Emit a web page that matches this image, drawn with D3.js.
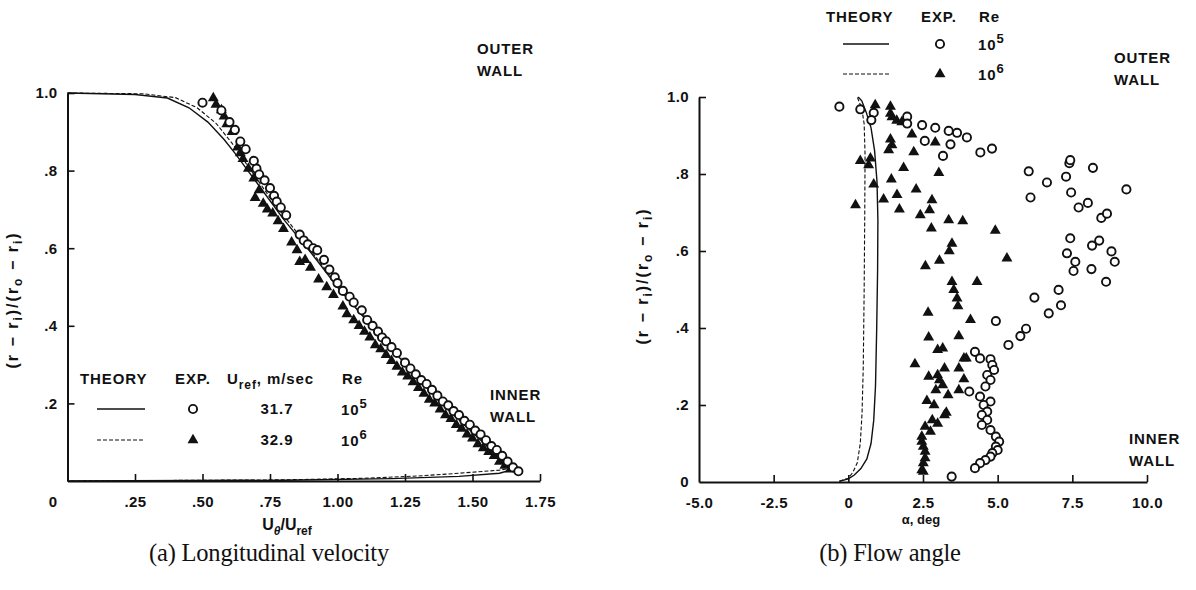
<!DOCTYPE html>
<html lang="en">
<head>
<meta charset="utf-8">
<title>Longitudinal velocity and flow angle</title>
<style>
  body { margin: 0; background: #fff; }
  svg text { font-family: "Liberation Sans", Arial, sans-serif; font-weight: bold; fill: #111; }
  .axis path, .axis line { stroke: #111; }
  .axis path { stroke-width: 2; }
  .axis line { stroke-width: 1.6; }
  .axis text { font-size: 15px; letter-spacing: 0.4px; }
  .lbl { letter-spacing: 0.9px; }
  .ytitle { letter-spacing: 2px; }
  .caption { font-family: "Liberation Serif", "DejaVu Serif", serif !important; font-weight: normal !important; font-size: 24.5px; letter-spacing: -0.2px; }
</style>
</head>
<body>
<svg id="chart" width="1196" height="590"></svg>
<script src="https://cdn.jsdelivr.net/npm/d3@7"></script>
<script>
// ---- (a) longitudinal velocity ----
const uTicks = [0, 0.25, 0.5, 0.75, 1.0, 1.25, 1.5, 1.75];
const uTickLabels = ["0", ".25", ".50", ".75", "1.00", "1.25", "1.50", "1.75"];
const rTicksA = [0.2, 0.4, 0.6, 0.8, 1.0];
const rTickLabelsA = [".2", ".4", ".6", ".8", "1.0"];

// theory, Re 1e5 (solid) and Re 1e6 (dashed): [U/Uref, (r-ri)/(ro-ri)]
const theoryA5 = [[0,1],[0.25,0.996],[0.37,0.987],[0.45,0.962],[0.52,0.925],[0.58,0.88],[0.62,0.845],[0.7,0.77],[0.8,0.675],[0.9,0.59],[1.0,0.5],[1.1,0.42],[1.2,0.34],[1.3,0.265],[1.4,0.19],[1.5,0.125],[1.6,0.06],[1.65,0.03],[1.6,0.02],[1.45,0.012],[1.2,0.006],[0.8,0.002],[0,0]];
const theoryA6 = [[0,1],[0.28,0.998],[0.4,0.988],[0.48,0.962],[0.55,0.922],[0.61,0.87],[0.66,0.82],[0.75,0.73],[0.9,0.595],[1.0,0.505],[1.2,0.345],[1.4,0.195],[1.6,0.065],[1.66,0.035],[1.6,0.028],[1.45,0.02],[1.3,0.013],[1.1,0.007],[0.8,0.003],[0,0]];

// experiment, Re 1e5 (circles)
const expA5 = [[0.50,0.975],[0.57,0.955],[0.60,0.925],[0.62,0.905],[0.64,0.875],[0.66,0.855],[0.69,0.825],[0.70,0.805],[0.71,0.79],[0.73,0.775],[0.75,0.755],[0.765,0.735],[0.775,0.72],[0.79,0.705],[0.81,0.685],[0.86,0.635],[0.875,0.62],[0.89,0.61],[0.91,0.60],[0.925,0.595],[0.95,0.57],[0.97,0.545],[0.99,0.525],[1.0,0.51],[1.02,0.49],[1.045,0.475],[1.06,0.46],[1.09,0.44],[1.11,0.415],[1.13,0.40],[1.15,0.385],[1.165,0.37],[1.18,0.36],[1.2,0.345],[1.22,0.33],[1.25,0.305],[1.27,0.29],[1.29,0.275],[1.31,0.26],[1.33,0.25],[1.35,0.235],[1.37,0.22],[1.39,0.205],[1.41,0.195],[1.43,0.18],[1.45,0.17],[1.47,0.155],[1.49,0.145],[1.51,0.13],[1.53,0.12],[1.55,0.105],[1.57,0.09],[1.59,0.08],[1.61,0.065],[1.63,0.05],[1.65,0.035],[1.67,0.025]];
// experiment, Re 1e6 (triangles)
const expA6 = [[0.54,0.987],[0.55,0.97],[0.57,0.956],[0.58,0.94],[0.59,0.92],[0.61,0.90],[0.63,0.86],[0.64,0.845],[0.65,0.83],[0.67,0.805],[0.69,0.78],[0.695,0.73],[0.71,0.75],[0.725,0.715],[0.74,0.70],[0.76,0.69],[0.78,0.67],[0.80,0.65],[0.83,0.615],[0.85,0.595],[0.86,0.565],[0.88,0.57],[0.9,0.55],[0.93,0.52],[0.96,0.50],[0.985,0.48],[1.02,0.45],[1.035,0.43],[1.06,0.415],[1.08,0.4],[1.1,0.385],[1.12,0.37],[1.14,0.35],[1.16,0.34],[1.18,0.325],[1.2,0.31],[1.22,0.295],[1.24,0.28],[1.26,0.27],[1.28,0.255],[1.3,0.24],[1.32,0.225],[1.34,0.21],[1.36,0.2],[1.38,0.185],[1.4,0.17],[1.42,0.16],[1.44,0.145],[1.46,0.135],[1.48,0.12],[1.5,0.11],[1.52,0.095],[1.54,0.085],[1.56,0.075],[1.58,0.065],[1.6,0.05],[1.62,0.04],[1.64,0.03]];

// ---- (b) flow angle ----
const aTicks = [-5, -2.5, 0, 2.5, 5, 7.5, 10];
const aTickLabels = ["-5.0", "-2.5", "0", "2.5", "5.0", "7.5", "10.0"];
const rTicksB = [0, 0.2, 0.4, 0.6, 0.8, 1.0];
const rTickLabelsB = ["0", ".2", ".4", ".6", ".8", "1.0"];

// theory: [alpha deg, (r-ri)/(ro-ri)]
const theoryB5 = [[-0.3,0.002],[0,0.008],[0.2,0.018],[0.42,0.035],[0.62,0.06],[0.76,0.1],[0.85,0.16],[0.91,0.25],[0.95,0.4],[0.98,0.55],[0.99,0.68],[0.96,0.78],[0.88,0.86],[0.76,0.92],[0.6,0.96],[0.45,0.99],[0.33,1.0]];
const theoryB6 = [[-0.3,0.002],[0,0.01],[0.15,0.025],[0.3,0.05],[0.4,0.1],[0.46,0.18],[0.5,0.3],[0.53,0.5],[0.55,0.7],[0.56,0.85],[0.53,0.93],[0.45,0.97],[0.3,1.0]];

const expB5 = [[-0.3,0.975],[0.40,0.968],[0.85,0.959],[0.77,0.940],[1.97,0.949],[1.97,0.931],[2.47,0.927],[2.91,0.920],[3.36,0.912],[3.64,0.907],[3.97,0.895],[2.56,0.886],[3.42,0.877],[3.17,0.847],[4.42,0.856],[4.81,0.866],[6.04,0.807],[6.10,0.739],[6.65,0.778],[7.29,0.793],[7.40,0.828],[7.43,0.836],[7.46,0.752],[7.71,0.713],[8.02,0.725],[8.47,0.686],[8.66,0.697],[8.19,0.816],[9.31,0.760],[7.43,0.633],[7.32,0.594],[7.60,0.572],[7.54,0.548],[8.16,0.614],[8.40,0.627],[8.81,0.599],[8.92,0.572],[8.14,0.553],[8.63,0.520],[6.23,0.479],[7.04,0.499],[6.71,0.438],[7.12,0.459],[4.94,0.418],[5.95,0.398],[5.76,0.379],[5.36,0.356],[4.24,0.338],[4.41,0.321],[4.76,0.319],[4.82,0.304],[4.88,0.291],[4.65,0.278],[4.76,0.265],[4.59,0.248],[4.05,0.235],[4.41,0.222],[4.76,0.209],[4.53,0.2],[4.65,0.183],[4.47,0.174],[4.65,0.161],[4.47,0.148],[4.76,0.135],[4.94,0.118],[5.05,0.105],[4.94,0.092],[5.00,0.083],[4.82,0.075],[4.76,0.066],[4.59,0.057],[4.41,0.049],[4.24,0.036],[3.46,0.014]];
const expB6 = [[0.90,0.979],[1.41,0.975],[1.41,0.957],[1.46,0.948],[1.62,0.939],[1.79,0.935],[2.13,0.903],[2.91,0.882],[1.41,0.890],[1.46,0.875],[1.35,0.862],[2.19,0.857],[1.85,0.816],[3.03,0.803],[0.40,0.834],[0.68,0.823],[0.74,0.841],[0.85,0.773],[1.44,0.786],[1.18,0.734],[1.63,0.746],[2.27,0.760],[2.80,0.732],[0.24,0.719],[1.71,0.708],[2.41,0.693],[2.72,0.706],[3.36,0.680],[3.83,0.678],[2.78,0.659],[4.92,0.653],[3.47,0.619],[3.38,0.600],[3.05,0.575],[2.58,0.561],[5.31,0.581],[3.47,0.520],[3.53,0.499],[3.64,0.477],[3.67,0.457],[4.31,0.520],[2.67,0.440],[4.09,0.421],[3.70,0.379],[2.69,0.376],[2.23,0.306],[3.87,0.321],[3.95,0.321],[3.22,0.295],[3.70,0.295],[2.99,0.343],[3.16,0.347],[2.69,0.274],[2.99,0.278],[3.05,0.265],[3.87,0.267],[3.16,0.252],[2.93,0.239],[3.70,0.239],[3.34,0.226],[2.63,0.211],[2.87,0.2],[3.28,0.18],[3.22,0.174],[2.81,0.161],[2.99,0.152],[2.57,0.144],[2.75,0.131],[2.46,0.118],[2.46,0.105],[2.51,0.092],[2.57,0.079],[2.57,0.062],[2.51,0.049],[2.46,0.031],[2.51,0.027]];

const svg = d3.select("#chart");
svg.append("rect").attr("width", 1196).attr("height", 590).attr("fill", "#fff");

const triangle = d3.symbol().type(d3.symbolTriangle).size(52);

function drawPanel(o) {
  const g = svg.append("g");
  const x = o.x, y = o.y;
  const line = d3.line().x(d => x(d[0])).y(d => y(d[1]));

  const xAxis = d3.axisBottom(x).tickValues(o.xTicks).tickFormat((d, i) => o.xLabels[i])
    .tickSizeInner(-7).tickSizeOuter(0).tickPadding(15);
  const gx = g.append("g").attr("class", "axis").attr("transform", `translate(0,${y(0)})`).call(xAxis);
  gx.selectAll(".tick").filter(d => d === o.xTicks[0]).select("line").remove();
  gx.selectAll(".tick text").attr("dx", d => d === o.xTicks[0] ? o.firstDx : 0);

  const yAxis = d3.axisLeft(y).tickValues(o.yTicks).tickFormat((d, i) => o.yLabels[i])
    .tickSizeInner(-7).tickSizeOuter(0).tickPadding(10);
  const gy = g.append("g").attr("class", "axis").attr("transform", `translate(${x.range()[0]},0)`).call(yAxis);
  gy.selectAll(".tick").filter(d => d === 0).select("line").remove();

  g.append("path").datum(o.theory5).attr("d", line)
    .attr("fill", "none").attr("stroke", "#111").attr("stroke-width", 1.4);
  g.append("path").datum(o.theory6).attr("d", line)
    .attr("fill", "none").attr("stroke", "#111").attr("stroke-width", 1.1).attr("stroke-dasharray", "4,2");

  g.selectAll(".tri").data(o.exp6).join("path")
    .attr("d", triangle).attr("transform", d => `translate(${x(d[0])},${y(d[1])})`).attr("fill", "#111");
  g.selectAll(".circ").data(o.exp5).join("circle")
    .attr("cx", d => x(d[0])).attr("cy", d => y(d[1])).attr("r", 4.1)
    .attr("fill", "#fff").attr("stroke", "#111").attr("stroke-width", 1.9);
  return g;
}

const xA = d3.scaleLinear().domain([0, 1.75]).range([67.5, 540]);
const yA = d3.scaleLinear().domain([0, 1]).range([481, 93]);
const xB = d3.scaleLinear().domain([-5, 10]).range([699, 1147]);
const yB = d3.scaleLinear().domain([0, 1]).range([482, 97]);

drawPanel({ x: xA, y: yA, xTicks: uTicks, xLabels: uTickLabels, yTicks: rTicksA, yLabels: rTickLabelsA,
  theory5: theoryA5, theory6: theoryA6, exp5: expA5, exp6: expA6, firstDx: -15 });
drawPanel({ x: xB, y: yB, xTicks: aTicks, xLabels: aTickLabels, yTicks: rTicksB, yLabels: rTickLabelsB,
  theory5: theoryB5, theory6: theoryB6, exp5: expB5, exp6: expB6, firstDx: 0 });

// y axis titles (r - ri)/(ro - ri)
function yTitle(cx, cy) {
  const t = svg.append("text").attr("transform", `translate(${cx},${cy}) rotate(-90)`)
    .attr("text-anchor", "middle").attr("font-size", 16).attr("class", "ytitle");
  t.append("tspan").text("(r \u2212 r");
  t.append("tspan").text("i").attr("dy", 4).attr("font-size", 12);
  t.append("tspan").text(")/(r").attr("dy", -4);
  t.append("tspan").text("o").attr("dy", 4).attr("font-size", 12);
  t.append("tspan").text(" \u2212 r").attr("dy", -4);
  t.append("tspan").text("i").attr("dy", 4).attr("font-size", 12);
  t.append("tspan").text(")").attr("dy", -4);
}
yTitle(18, 300);
yTitle(648, 276);

// x axis titles
const ux = svg.append("text").attr("x", 287).attr("y", 530).attr("text-anchor", "middle").attr("font-size", 16);
ux.append("tspan").text("U");
ux.append("tspan").text("\u03b8").attr("dy", 5).attr("font-size", 12).attr("font-style", "italic");
ux.append("tspan").text("/U").attr("dy", -5);
ux.append("tspan").text("ref").attr("dy", 5).attr("font-size", 12);
svg.append("text").attr("x", 921).attr("y", 524).attr("text-anchor", "middle").attr("font-size", 13).text("\u03b1, deg");

// wall labels
function twoLine(x, y, a, b) {
  svg.append("text").attr("class", "lbl").attr("x", x).attr("y", y).attr("font-size", 15).text(a);
  svg.append("text").attr("class", "lbl").attr("x", x).attr("y", y + 22).attr("font-size", 15).text(b);
}
twoLine(477, 54, "OUTER", "WALL");
twoLine(490, 400, "INNER", "WALL");
twoLine(1114, 63, "OUTER", "WALL");
twoLine(1129, 444, "INNER", "WALL");

// legend helpers
function supText(x, y, base, sup) {
  const t = svg.append("text").attr("class", "lbl").attr("x", x).attr("y", y).attr("font-size", 15);
  t.append("tspan").text(base);
  t.append("tspan").text(sup).attr("dy", -7).attr("font-size", 13);
}
function legendRows(o) {
  o.rows.forEach((r, i) => {
    const yy = o.y0 + i * o.dy;
    svg.append("line").attr("x1", o.lineX[0]).attr("x2", o.lineX[1]).attr("y1", yy).attr("y2", yy)
      .attr("stroke", "#111").attr("stroke-width", r.dash ? 1.1 : 1.6).attr("stroke-dasharray", r.dash ? "4,2" : null);
    if (r.mark === "circle") {
      svg.append("circle").attr("cx", o.markX).attr("cy", yy).attr("r", 4.1)
        .attr("fill", "#fff").attr("stroke", "#111").attr("stroke-width", 1.9);
    } else {
      svg.append("path").attr("d", triangle).attr("transform", `translate(${o.markX},${yy})`).attr("fill", "#111");
    }
    if (o.speedX) svg.append("text").attr("class", "lbl").attr("x", o.speedX).attr("y", yy + 5).attr("text-anchor", "middle").attr("font-size", 15).text(r.speed);
    supText(o.reX, yy + 6, "10", r.re);
  });
}

const legendRowsA = [
  { dash: false, mark: "circle", speed: "31.7", re: "5" },
  { dash: true, mark: "triangle", speed: "32.9", re: "6" }
];
const legendRowsB = [
  { dash: false, mark: "circle", re: "5" },
  { dash: true, mark: "triangle", re: "6" }
];

function head(x, y, s) {
  return svg.append("text").attr("class", "lbl").attr("x", x).attr("y", y).attr("font-size", 15).text(s);
}

// legend (a)
head(80, 384, "THEORY");
head(175, 384, "EXP.");
const uh = head(227, 384, "");
uh.append("tspan").text("U");
uh.append("tspan").text("ref").attr("dy", 5).attr("font-size", 12);
uh.append("tspan").text(", m/sec").attr("dy", -5);
head(342, 384, "Re");
legendRows({ rows: legendRowsA, y0: 409, dy: 31, lineX: [97, 145], markX: 193, speedX: 277, reX: 341 });

// legend (b)
head(826, 22, "THEORY");
head(921, 22, "EXP.");
head(979, 22, "Re");
legendRows({ rows: legendRowsB, y0: 44, dy: 30, lineX: [843, 889], markX: 940, reX: 978 });

// captions
svg.append("text").attr("class", "caption").attr("x", 269).attr("y", 561).attr("text-anchor", "middle").text("(a) Longitudinal velocity");
svg.append("text").attr("class", "caption").attr("x", 890).attr("y", 561).attr("text-anchor", "middle").text("(b) Flow angle");
</script>
</body>
</html>
